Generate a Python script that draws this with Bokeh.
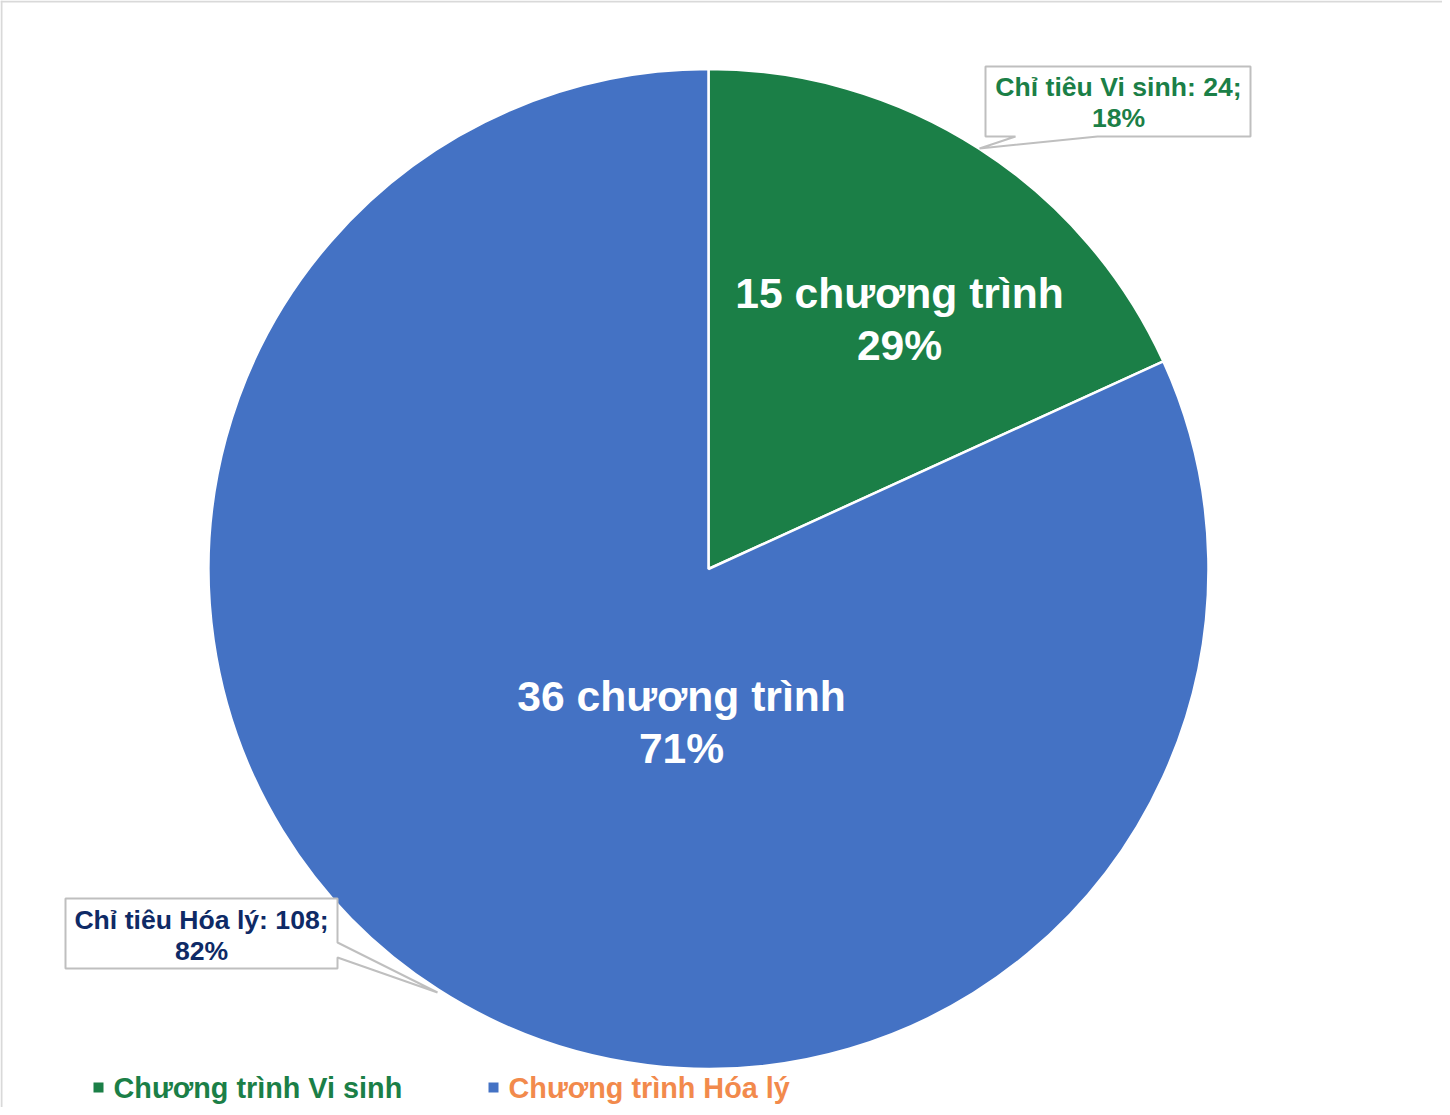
import math
from bokeh.plotting import figure
from bokeh.models import Range1d
from bokeh.core.properties import value
from bokeh.embed import file_html
from bokeh.resources import INLINE

# ---- data ----
categories = ["Chương trình Vi sinh", "Chương trình Hóa lý"]
indicator_names = ["Chỉ tiêu Vi sinh", "Chỉ tiêu Hóa lý"]
indicators = [24, 108]          # slice sizes
programs = [15, 36]             # number of programmes (inner labels)
slice_colors = ["#1b7f47", "#4472c4"]
callout_colors = ["#1b7f47", "#0e2a66"]
legend_text_colors = ["#1b7f47", "#f28a4c"]

W, H = 1442, 1107
FONT = "Liberation Sans"

def px(X):  # page x -> data x
    return X - 8

def py(Y):  # page y -> data y
    return H - (Y - 8)

p = figure(width=W, height=H, output_backend="svg", toolbar_location=None,
           x_range=Range1d(0, W), y_range=Range1d(0, H), min_border=0)
p.axis.visible = False
p.grid.visible = False
p.outline_line_color = None
p.background_fill_color = "white"

# border (left and top only visible in the reference)
p.segment(x0=[1, 0], y0=[0, H - 1], x1=[1, W], y1=[H, H - 1],
          line_color="#d9d9d9", line_width=2)

# ---- pie ----
cx, cy, R = px(716), py(576.5), 500
total_ind = sum(indicators)
start = math.pi / 2
ends, starts = [], []
a = start
for v in indicators:
    span = 2 * math.pi * v / total_ind
    ends.append(a)
    starts.append(a - span)
    a -= span
p.wedge(x=[cx] * 2, y=[cy] * 2, radius=R, start_angle=starts, end_angle=ends,
        fill_color=slice_colors, line_color="white", line_width=2.5)

# ---- inner labels ----
total_prog = sum(programs)
prog_pct = [round(100 * v / total_prog) for v in programs]
inner_pos = [(907, 300, 352), (689, 703, 755)]
for i in range(2):
    X, Y1, Y2 = inner_pos[i]
    p.text(x=[px(X), px(X)], y=[py(Y1), py(Y2)],
           text=[f"{programs[i]} chương trình", f"{prog_pct[i]}%"],
           text_font=value(FONT), text_font_style="bold", text_font_size="42.6px",
           text_color="white", text_align="center", text_baseline="middle")

# ---- callouts ----
ind_pct = [round(100 * v / total_ind) for v in indicators]
# green callout (box with tail)
gx = [993, 1258, 1258, 1105, 987, 1023, 993]
gy = [74, 74, 144, 144, 156, 144, 144]
# blue callout
bx = [73, 345, 345, 445, 345, 345, 73]
by = [906, 906, 950, 1000, 965, 976, 976]
for xs, ys in [(gx, gy), (bx, by)]:
    p.patch(x=[px(v) for v in xs], y=[py(v) for v in ys], fill_color="white",
            line_color="#bfbfbf", line_width=2)

call_pos = [(1126, 94, 125), (209, 927, 958)]
for i in range(2):
    X, Y1, Y2 = call_pos[i]
    p.text(x=[px(X), px(X)], y=[py(Y1), py(Y2)],
           text=[f"{indicator_names[i]}: {indicators[i]};", f"{ind_pct[i]}%"],
           text_font=value(FONT), text_font_style="bold", text_font_size="26.6px",
           text_color=callout_colors[i], text_align="center", text_baseline="middle")

# ---- legend ----
leg_sq_x = [106, 501]
leg_txt_x = [121, 516]
leg_y = 1095
p.scatter(x=[px(v) for v in leg_sq_x], y=[py(leg_y)] * 2, marker="square", size=10,
          fill_color=slice_colors, line_color=None)
p.text(x=[px(v) for v in leg_txt_x], y=[py(leg_y)] * 2, text=categories,
       text_font=value(FONT), text_font_style="bold", text_font_size="28.8px",
       text_color=legend_text_colors, text_align="left", text_baseline="middle")

open("out.html", "w").write(file_html(p, INLINE))
